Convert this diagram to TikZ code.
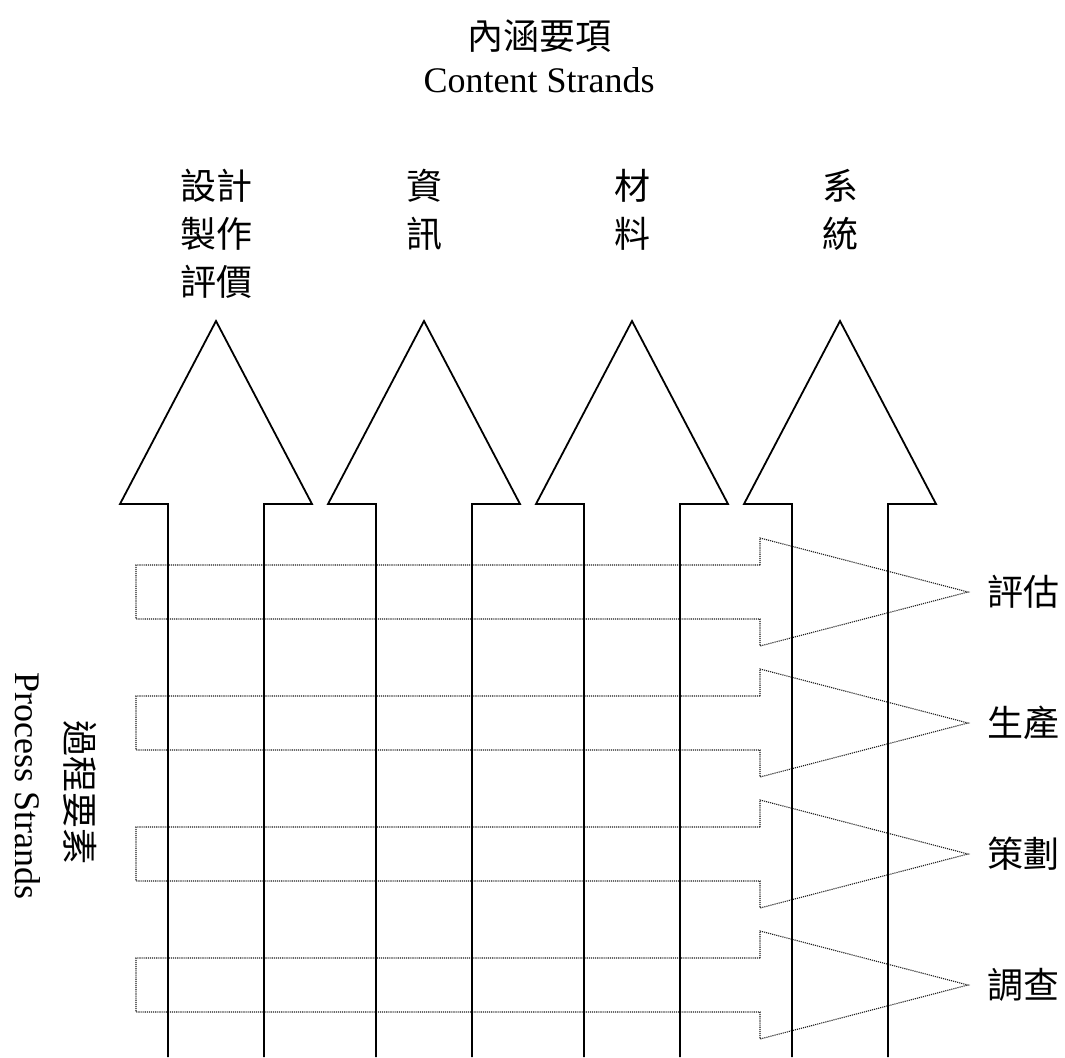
\documentclass[tikz,border=0pt]{standalone}
\usepackage{fontspec}
\setmainfont{Liberation Serif}
\newfontfamily\cjk{Noto Sans CJK TC}
\begin{document}
\begin{tikzpicture}[x=1pt,y=-1pt,
  uparrow/.style={draw=black,line width=1.8pt,line join=miter},
  rarrow/.style={draw=black!90,line width=1.1pt,densely dotted},
  big/.style={font=\fontsize{36}{48}\selectfont,inner sep=0pt,align=center},
  cjklabel/.style={big,font=\fontsize{36}{48}\selectfont\cjk}]
\useasboundingbox (0,0) rectangle (1065,1057);
% horizontal dotted arrows (process strands)
\foreach \cy in {592,723,854,985}{
  \draw[rarrow] (760,\cy-27) -- (136,\cy-27) -- (136,\cy+27) -- (760,\cy+27)
     -- (760,\cy+54) -- (968,\cy) -- (760,\cy-54) -- cycle;
}
% vertical block arrows (content strands)
\foreach \cx in {216,424,632,840}{
  \draw[uparrow] (\cx-48,1057) -- (\cx-48,504) -- (\cx-96,504) -- (\cx,321)
     -- (\cx+96,504) -- (\cx+48,504) -- (\cx+48,1057);
}
% titles
\node[cjklabel] (t1) at (539,36) {內涵要項};
\node[big] (t2) at (539,80) {Content Strands};
% column labels
\node[cjklabel] (c1) at (216,234) {設計\\製作\\評價};
\node[cjklabel] (c2) at (424,210) {資\\訊};
\node[cjklabel] (c3) at (632,210) {材\\料};
\node[cjklabel] (c4) at (840,210) {系\\統};
% row labels
\node[cjklabel] (r1) at (1023,592) {評估};
\node[cjklabel] (r2) at (1023,723) {生產};
\node[cjklabel] (r3) at (1023,854) {策劃};
\node[cjklabel] (r4) at (1023,985) {調查};
% side titles
\node[big,rotate=-90] (s1) at (28,786) {Process Strands};
\node[cjklabel,rotate=-90] (s2) at (80,792) {過程要素};
\end{tikzpicture}
\end{document}
